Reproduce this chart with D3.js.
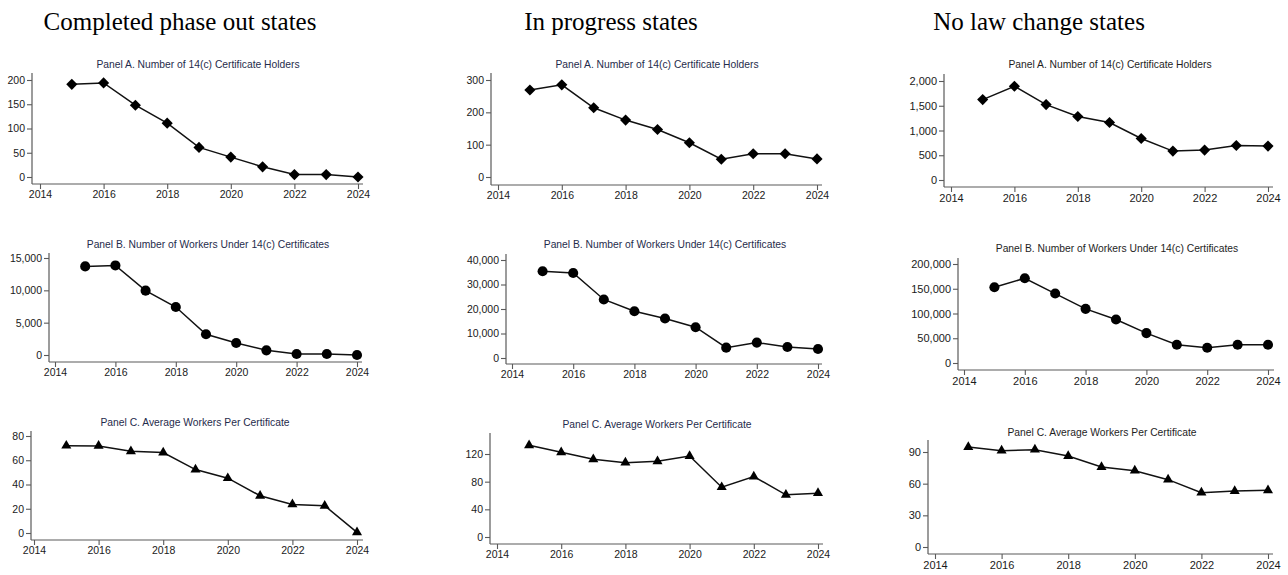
<!DOCTYPE html>
<html>
<head>
<meta charset="utf-8">
<script src="https://cdn.jsdelivr.net/npm/d3@7"></script>
<style>
  html, body { margin: 0; padding: 0; background: #fff; }
  svg { display: block; }
</style>
</head>
<body>
<svg id="chart" width="1288" height="575"></svg>
<script>
// ---- Data ----
const years = [2015, 2016, 2017, 2018, 2019, 2020, 2021, 2022, 2023, 2024];
const xTicks = [2014, 2016, 2018, 2020, 2022, 2024];

const groupTitles = ["Completed phase out states", "In progress states", "No law change states"];
const panelTitles = [
  "Panel A. Number of 14(c) Certificate Holders",
  "Panel B. Number of Workers Under 14(c) Certificates",
  "Panel C. Average Workers Per Certificate"
];

// Completed phase out states
const completedHolders = [191, 194, 148, 111, 61, 41, 21, 5, 5, 0];
const completedWorkers = [13700, 13850, 9950, 7420, 3200, 1860, 720, 150, 150, 0];
const completedAvg = [72, 71.8, 67.4, 66.3, 52.3, 45.2, 30.7, 23.6, 22.5, 0.5];

// In progress states
const progressHolders = [269, 285, 214, 176, 147, 106, 55, 72, 72, 56];
const progressWorkers = [35400, 34700, 23900, 19100, 16100, 12560, 4230, 6280, 4500, 3690];
const progressAvg = [132.5, 122.4, 112.3, 107.5, 109.4, 117.1, 72, 87.4, 61, 63.4];

// No law change states
const noChangeHolders = [1624, 1893, 1523, 1282, 1161, 839, 584, 604, 698, 685];
const noChangeWorkers = [153000, 171100, 140300, 109400, 87900, 60400, 36900, 30900, 36900, 36900];
const noChangeAvg = [94.7, 91.3, 92.2, 86.2, 75.8, 72.3, 63.8, 51.5, 53, 53.7];

// y-axis tick values per panel
const ticksCompletedA = [0, 50, 100, 150, 200];
const ticksCompletedB = [0, 5000, 10000, 15000];
const ticksCompletedC = [0, 20, 40, 60, 80];
const ticksProgressA = [0, 100, 200, 300];
const ticksProgressB = [0, 10000, 20000, 30000, 40000];
const ticksProgressC = [0, 40, 80, 120];
const ticksNoChangeA = [0, 500, 1000, 1500, 2000];
const ticksNoChangeB = [0, 50000, 100000, 150000, 200000];
const ticksNoChangeC = [0, 30, 60, 90];

// ---- Layout (pixel geometry of each panel) ----
// ax: y-axis line x, x0/x1: pixel of 2014/2024, right: end of x-axis line,
// y0: pixel of value 0, yt: pixel of top tick, top: top of y-axis line,
// ay: x-axis line y, tx/ty: panel title position
const panels = [
  { col: 0, row: 0, values: completedHolders, ticks: ticksCompletedA, marker: "diamond",
    ax: 32, x0: 40, x1: 358, right: 363, y0: 177, yt: 80, top: 73, ay: 184, tx: 198, ty: 68 },
  { col: 0, row: 1, values: completedWorkers, ticks: ticksCompletedB, marker: "circle",
    ax: 49, x0: 55, x1: 357, right: 362, y0: 355, yt: 258, top: 253, ay: 362, tx: 208, ty: 248 },
  { col: 0, row: 2, values: completedAvg, ticks: ticksCompletedC, marker: "triangle",
    ax: 31, x0: 34, x1: 357, right: 363, y0: 533, yt: 436, top: 431, ay: 540, tx: 195, ty: 426 },

  { col: 1, row: 0, values: progressHolders, ticks: ticksProgressA, marker: "diamond",
    ax: 491, x0: 498, x1: 817, right: 822, y0: 177, yt: 80, top: 73, ay: 185, tx: 657, ty: 68 },
  { col: 1, row: 1, values: progressWorkers, ticks: ticksProgressB, marker: "circle",
    ax: 506, x0: 512, x1: 818, right: 822, y0: 358, yt: 260, top: 254, ay: 364, tx: 665, ty: 248 },
  { col: 1, row: 2, values: progressAvg, ticks: ticksProgressC, marker: "triangle",
    ax: 490, x0: 497, x1: 818, right: 823, y0: 537, yt: 454, top: 433, ay: 544, tx: 657, ty: 428 },

  { col: 2, row: 0, values: noChangeHolders, ticks: ticksNoChangeA, marker: "diamond",
    ax: 944, x0: 951, x1: 1268, right: 1273, y0: 180, yt: 81, top: 74, ay: 187, tx: 1110, ty: 68 },
  { col: 2, row: 1, values: noChangeWorkers, ticks: ticksNoChangeB, marker: "circle",
    ax: 958, x0: 964, x1: 1268, right: 1274, y0: 363, yt: 264, top: 258, ay: 370, tx: 1117, ty: 252 },
  { col: 2, row: 2, values: noChangeAvg, ticks: ticksNoChangeC, marker: "triangle",
    ax: 928, x0: 935, x1: 1268, right: 1273, y0: 547, yt: 452, top: 440, ay: 554, tx: 1102, ty: 436 }
];

const groupTitleX = [180, 611, 1039];

const svg = d3.select("#chart");
const axisColor = "#5a5a5a";
const labelColor = "#1a1a1a";
const panelTitleColors = ["#1f2c4c", "#1f2c4c", "#1e1e1e"];

// Column headings
svg.selectAll("text.group-title")
  .data(groupTitles)
  .join("text")
  .attr("class", "group-title")
  .attr("x", (d, i) => groupTitleX[i])
  .attr("y", 30)
  .attr("text-anchor", "middle")
  .attr("font-family", "'Liberation Serif', 'Times New Roman', serif")
  .attr("font-size", 25)
  .attr("fill", "#000")
  .text(d => d);

const symbolFor = {
  diamond: d3.symbol().type(d3.symbolSquare).size(62),
  circle: d3.symbol().type(d3.symbolCircle).size(80),
  triangle: d3.symbol().type(d3.symbolTriangle).size(44)
};

panels.forEach(p => {
  const g = svg.append("g");
  const x = d3.scaleLinear().domain([2014, 2024]).range([p.x0, p.x1]);
  const yMax = p.ticks[p.ticks.length - 1];
  const y = d3.scaleLinear().domain([0, yMax]).range([p.y0, p.yt]);
  const fmt = d3.format(",");

  // Panel title
  g.append("text")
    .attr("x", p.tx)
    .attr("y", p.ty)
    .attr("text-anchor", "middle")
    .attr("font-family", "'Liberation Sans', Arial, sans-serif")
    .attr("font-size", 10.3)
    .attr("fill", panelTitleColors[p.col])
    .text(panelTitles[p.row]);

  // Axis lines
  g.append("line")
    .attr("x1", p.ax).attr("x2", p.ax)
    .attr("y1", p.top).attr("y2", p.ay)
    .attr("stroke", axisColor).attr("stroke-width", 1.2);
  g.append("line")
    .attr("x1", p.ax).attr("x2", p.right)
    .attr("y1", p.ay).attr("y2", p.ay)
    .attr("stroke", axisColor).attr("stroke-width", 1.2);

  // y axis ticks and labels
  const yAxis = g.append("g")
    .attr("transform", `translate(${p.ax},0)`)
    .call(d3.axisLeft(y).tickValues(p.ticks).tickFormat(fmt).tickSize(5).tickSizeOuter(0).tickPadding(2));
  yAxis.select(".domain").remove();

  // x axis ticks and labels
  const xAxis = g.append("g")
    .attr("transform", `translate(0,${p.ay})`)
    .call(d3.axisBottom(x).tickValues(xTicks).tickFormat(d3.format("d")).tickSize(5).tickSizeOuter(0).tickPadding(2));
  xAxis.select(".domain").remove();

  [yAxis, xAxis].forEach(a => {
    a.selectAll(".tick line").attr("stroke", axisColor).attr("stroke-width", 1.1);
    a.selectAll(".tick text")
      .attr("fill", labelColor)
      .attr("font-family", "'Liberation Sans', Arial, sans-serif")
      .attr("font-size", p.col === 2 ? 11 : 10.5);
  });

  // Series line
  const pts = years.map((yr, i) => ({ yr, v: p.values[i] }));
  g.append("path")
    .datum(pts)
    .attr("fill", "none")
    .attr("stroke", "#111")
    .attr("stroke-width", 1.5)
    .attr("d", d3.line().x(d => x(d.yr)).y(d => y(d.v)));

  // Markers
  g.selectAll("path.mark")
    .data(pts)
    .join("path")
    .attr("class", "mark")
    .attr("d", symbolFor[p.marker])
    .attr("fill", "#000")
    .attr("transform", d => `translate(${x(d.yr)},${y(d.v)})` + (p.marker === "diamond" ? " rotate(45)" : ""));
});
</script>
</body>
</html>
